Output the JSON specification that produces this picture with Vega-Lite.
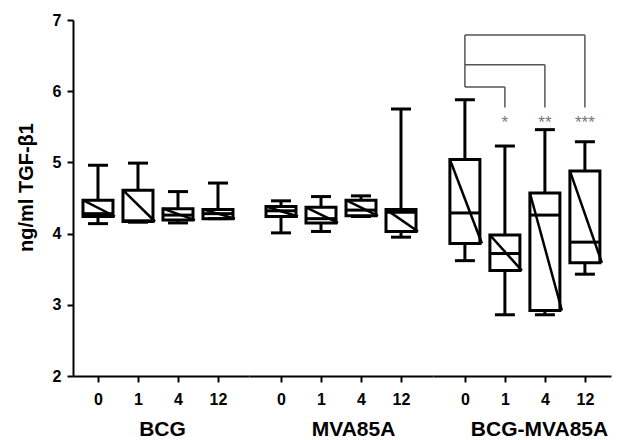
{
  "$schema": "https://vega.github.io/schema/vega-lite/v6.json",
  "padding": {"left": 16, "top": 12, "right": 5, "bottom": 0},
  "spacing": 0,
  "config": {
    "view": {"stroke": null},
    "font": "Liberation Sans",
    "tick": {"opacity": 1},
    "axis": {
      "domainColor": "#000", "domainWidth": 2, "tickColor": "#000", "tickWidth": 2, "tickSize": 6,
      "labelFont": "Liberation Sans", "labelFontWeight": "bold", "labelColor": "#000",
      "titleFont": "Liberation Sans", "titleFontWeight": "bold", "titleColor": "#000", "grid": false
    }
  },
  "datasets": {
    "boxes": [
      {"group": "BCG", "t": "0", "min": 4.14, "q1": 4.24, "median": 4.28, "q3": 4.47, "max": 4.96},
      {"group": "BCG", "t": "1", "min": 4.16, "q1": 4.17, "median": 4.18, "q3": 4.61, "max": 4.99},
      {"group": "BCG", "t": "4", "min": 4.15, "q1": 4.19, "median": 4.26, "q3": 4.35, "max": 4.59},
      {"group": "BCG", "t": "12", "min": 4.21, "q1": 4.21, "median": 4.28, "q3": 4.34, "max": 4.71},
      {"group": "MVA85A", "t": "0", "min": 4.01, "q1": 4.24, "median": 4.32, "q3": 4.38, "max": 4.46},
      {"group": "MVA85A", "t": "1", "min": 4.03, "q1": 4.15, "median": 4.21, "q3": 4.37, "max": 4.52},
      {"group": "MVA85A", "t": "4", "min": 4.24, "q1": 4.25, "median": 4.33, "q3": 4.47, "max": 4.53},
      {"group": "MVA85A", "t": "12", "min": 3.95, "q1": 4.03, "median": 4.30, "q3": 4.34, "max": 5.75},
      {"group": "BCG-MVA85A", "t": "0", "min": 3.62, "q1": 3.86, "median": 4.29, "q3": 5.04, "max": 5.88},
      {"group": "BCG-MVA85A", "t": "1", "min": 2.86, "q1": 3.48, "median": 3.72, "q3": 3.98, "max": 5.23},
      {"group": "BCG-MVA85A", "t": "4", "min": 2.86, "q1": 2.92, "median": 4.26, "q3": 4.57, "max": 5.46},
      {"group": "BCG-MVA85A", "t": "12", "min": 3.43, "q1": 3.59, "median": 3.88, "q3": 4.88, "max": 5.29}
    ],
    "brackets": [
      {"a": "0", "b": "1", "y": 6.06, "y2": 6.06},
      {"a": "0", "b": "4", "y": 6.37, "y2": 6.37},
      {"a": "0", "b": "12", "y": 6.79, "y2": 6.79},
      {"a": "0", "b": "0", "y": 6.79, "y2": 6.06},
      {"a": "1", "b": "1", "y": 6.06, "y2": 5.77},
      {"a": "4", "b": "4", "y": 6.37, "y2": 5.77},
      {"a": "12", "b": "12", "y": 6.79, "y2": 5.77}
    ],
    "stars": [
      {"t": "1", "label": "*", "y": 5.56},
      {"t": "4", "label": "**", "y": 5.56},
      {"t": "12", "label": "***", "y": 5.56}
    ]
  },
  "hconcat": [
    {
      "width": 176, "height": 356,
      "data": {"name": "boxes"},
      "transform": [{"filter": "datum.group === 'BCG'"}],
      "encoding": {
        "x": {"field": "t", "type": "nominal",
              "scale": {"type": "point", "domain": ["0", "1", "4", "12"], "padding": 0.7, "align": 0.446},
              "axis": {"title": "BCG", "titleX": 89, "labelAngle": 0, "labelFontSize": 16, "labelPadding": 9, "titleFontSize": 21, "titlePadding": 11}}
      },
      "layer": [
        {"mark": {"type": "rule", "strokeWidth": 3, "color": "#000"},
         "encoding": {"y": {"field": "min", "type": "quantitative", "scale": {"domain": [2, 7], "nice": false},
                            "axis": {"title": "ng/ml TGF-β1", "titleY": 167, "values": [2, 3, 4, 5, 6, 7], "format": "d", "labelFontSize": 16, "labelPadding": 6, "titleFontSize": 20, "titlePadding": 16}},
                      "y2": {"field": "max"}}},
        {"mark": {"type": "bar", "width": 30, "fill": "#fff", "stroke": "#000", "strokeWidth": 3},
         "encoding": {"y": {"field": "q1", "type": "quantitative"}, "y2": {"field": "q3"}}},
        {"mark": {"type": "tick", "size": 30, "thickness": 3, "color": "#000"},
         "encoding": {"y": {"field": "median", "type": "quantitative"}}},
        {"mark": {"type": "rule", "strokeWidth": 2.5, "color": "#000", "xOffset": -15, "x2Offset": 17},
         "encoding": {"x2": {"field": "t"}, "y": {"field": "q3", "type": "quantitative"}, "y2": {"field": "q1"}}},
        {"mark": {"type": "tick", "size": 20, "thickness": 3, "color": "#000"},
         "encoding": {"y": {"field": "min", "type": "quantitative"}}},
        {"mark": {"type": "tick", "size": 20, "thickness": 3, "color": "#000"},
         "encoding": {"y": {"field": "max", "type": "quantitative"}}}
      ]
    },
    {
      "width": 184, "height": 356,
      "data": {"name": "boxes"},
      "transform": [{"filter": "datum.group === 'MVA85A'"}],
      "encoding": {
        "x": {"field": "t", "type": "nominal",
              "scale": {"type": "point", "domain": ["0", "1", "4", "12"], "padding": 0.8, "align": 0.5},
              "axis": {"title": "MVA85A", "titleX": 104, "labelAngle": 0, "labelFontSize": 16, "labelPadding": 9, "titleFontSize": 21, "titlePadding": 11}}
      },
      "layer": [
        {"mark": {"type": "rule", "strokeWidth": 3, "color": "#000"},
         "encoding": {"y": {"field": "min", "type": "quantitative", "scale": {"domain": [2, 7], "nice": false}, "axis": null},
                      "y2": {"field": "max"}}},
        {"mark": {"type": "bar", "width": 30, "fill": "#fff", "stroke": "#000", "strokeWidth": 3},
         "encoding": {"y": {"field": "q1", "type": "quantitative"}, "y2": {"field": "q3"}}},
        {"mark": {"type": "tick", "size": 30, "thickness": 3, "color": "#000"},
         "encoding": {"y": {"field": "median", "type": "quantitative"}}},
        {"mark": {"type": "rule", "strokeWidth": 2.5, "color": "#000", "xOffset": -15, "x2Offset": 17},
         "encoding": {"x2": {"field": "t"}, "y": {"field": "q3", "type": "quantitative"}, "y2": {"field": "q1"}}},
        {"mark": {"type": "tick", "size": 20, "thickness": 3, "color": "#000"},
         "encoding": {"y": {"field": "min", "type": "quantitative"}}},
        {"mark": {"type": "tick", "size": 20, "thickness": 3, "color": "#000"},
         "encoding": {"y": {"field": "max", "type": "quantitative"}}}
      ]
    },
    {
      "width": 178, "height": 356,
      "encoding": {
        "x": {"field": "t", "type": "nominal",
              "scale": {"type": "point", "domain": ["0", "1", "4", "12"], "padding": 0.725, "align": 0.55},
              "axis": {"title": "BCG-MVA85A", "titleX": 106, "labelAngle": 0, "labelFontSize": 16, "labelPadding": 9, "titleFontSize": 21, "titlePadding": 11}}
      },
      "layer": [
        {
          "data": {"name": "boxes"},
          "transform": [{"filter": "datum.group === 'BCG-MVA85A'"}],
          "layer": [
            {"mark": {"type": "rule", "strokeWidth": 3, "color": "#000"},
             "encoding": {"y": {"field": "min", "type": "quantitative", "scale": {"domain": [2, 7], "nice": false}, "axis": null},
                          "y2": {"field": "max"}}},
            {"mark": {"type": "bar", "width": 30, "fill": "#fff", "stroke": "#000", "strokeWidth": 3},
             "encoding": {"y": {"field": "q1", "type": "quantitative"}, "y2": {"field": "q3"}}},
            {"mark": {"type": "tick", "size": 30, "thickness": 3, "color": "#000"},
             "encoding": {"y": {"field": "median", "type": "quantitative"}}},
            {"mark": {"type": "rule", "strokeWidth": 2.5, "color": "#000", "xOffset": -15, "x2Offset": 17},
             "encoding": {"x2": {"field": "t"}, "y": {"field": "q3", "type": "quantitative"}, "y2": {"field": "q1"}}},
            {"mark": {"type": "tick", "size": 20, "thickness": 3, "color": "#000"},
             "encoding": {"y": {"field": "min", "type": "quantitative"}}},
            {"mark": {"type": "tick", "size": 20, "thickness": 3, "color": "#000"},
             "encoding": {"y": {"field": "max", "type": "quantitative"}}}
          ]
        },
        {
          "data": {"name": "brackets"},
          "mark": {"type": "rule", "strokeWidth": 1.5, "color": "#555"},
          "encoding": {
            "x": {"field": "a", "type": "nominal"},
            "x2": {"field": "b"},
            "y": {"field": "y", "type": "quantitative"},
            "y2": {"field": "y2"}
          }
        },
        {
          "data": {"name": "stars"},
          "mark": {"type": "text", "fontSize": 17, "color": "#777", "baseline": "middle"},
          "encoding": {
            "x": {"field": "t", "type": "nominal"},
            "y": {"field": "y", "type": "quantitative"},
            "text": {"field": "label"}
          }
        }
      ]
    }
  ]
}
